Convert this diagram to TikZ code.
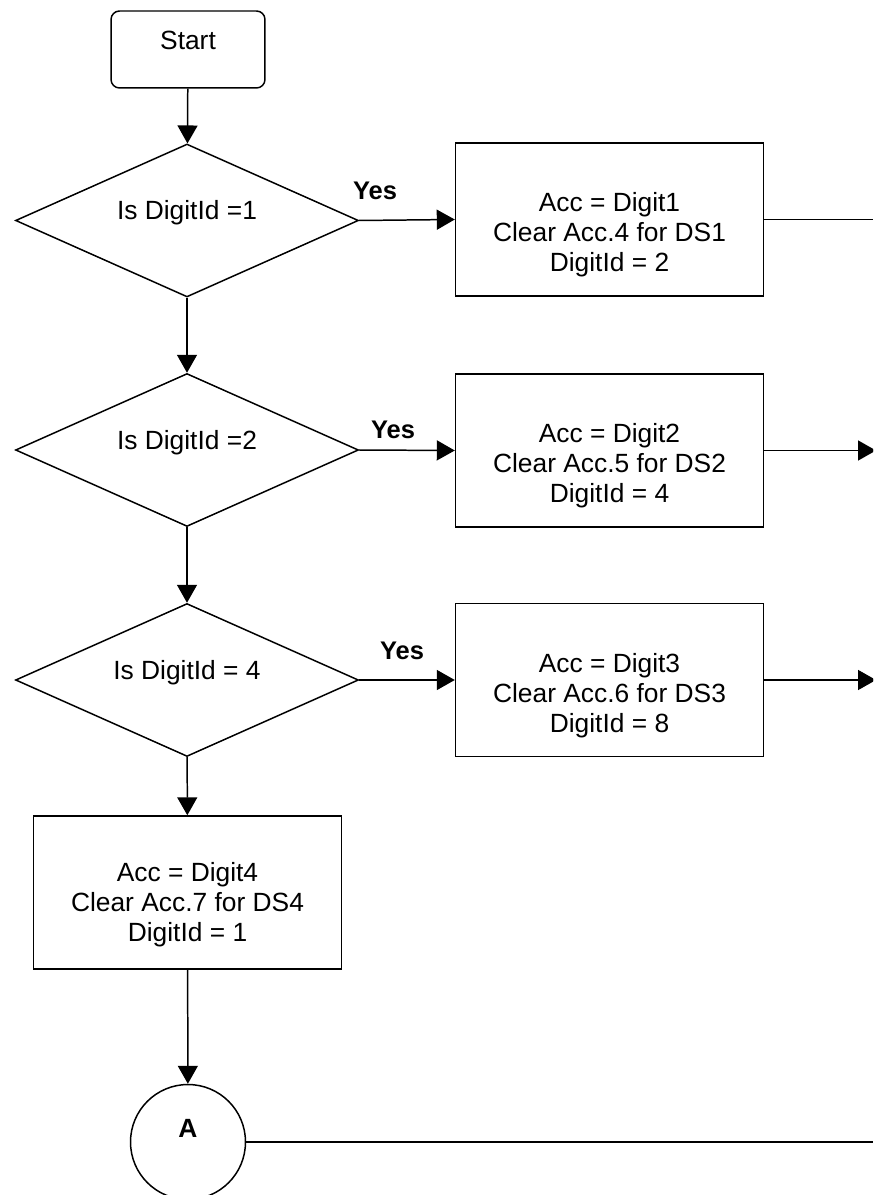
\documentclass[tikz,border=0pt]{standalone}
\usepackage{fontspec}
\setmainfont{Liberation Sans}
\usetikzlibrary{shapes.geometric, arrows.meta}

\tikzset{
  startbox/.style={draw, rectangle, rounded corners=0.17cm, minimum width=3.08cm, minimum height=1.54cm},
  decision/.style={draw, diamond, inner sep=0pt, minimum width=6.86cm, minimum height=3.06cm},
  process/.style={draw, rectangle, minimum width=6.16cm, minimum height=3.06cm},
  connector/.style={draw, circle, minimum size=2.3cm},
  txt/.style={align=center, inner sep=0pt},
  yeslbl/.style={inner sep=0pt, font=\fontsize{14.5}{17}\selectfont\bfseries}
}

\begin{document}
\begin{tikzpicture}[x=0.02cm, y=-0.02cm, line width=0.85pt,
  >={Triangle[length=3.6mm, width=4mm]},
  every node/.style={font=\fontsize{15}{17}\selectfont}]
\clip (0,0) rectangle (873,1195);

% main column
\node[startbox] (start) at (188,49.5) {};
\node[decision] (dec1) at (187,220.5) {};
\node[decision] (dec2) at (187,450) {};
\node[decision] (dec3) at (187,680) {};
\node[process] (act4) at (187.5,892.5) {};
\node[connector] (conA) at (188,1142) {};

% right column
\node[process] (act1) at (609.5,219.5) {};
\node[process] (act2) at (609.5,450.5) {};
\node[process] (act3) at (609.5,680) {};

% texts
\node[txt] (startlbl) at (188,40) {Start};
\node[txt] (dec1lbl) at (187,213) {Is DigitId =1};
\node[txt] (dec2lbl) at (187,443) {Is DigitId =2};
\node[txt] (dec3lbl) at (187,673) {Is DigitId = 4};
\node[txt] (act1lbl) at (609.5,235) {Acc = Digit1\\Clear Acc.4 for DS1\\DigitId = 2};
\node[txt] (act2lbl) at (609.5,466) {Acc = Digit2\\Clear Acc.5 for DS2\\DigitId = 4};
\node[txt] (act3lbl) at (609.5,696) {Acc = Digit3\\Clear Acc.6 for DS3\\DigitId = 8};
\node[txt] (act4lbl) at (187.5,905) {Acc = Digit4\\Clear Acc.7 for DS4\\DigitId = 1};
\node[txt, font=\fontsize{15}{17}\selectfont\bfseries] (conAlbl) at (188,1128) {A};

% yes labels
\node[yeslbl] (yes1) at (375,191) {Yes};
\node[yeslbl] (yes2) at (393,430) {Yes};
\node[yeslbl] (yes3) at (402,651) {Yes};

% right edge
\coordinate (rim) at (873,0);
\coordinate (rimtip) at (876,0);

% connectors
\draw[->] (start) -- (dec1);
\draw[->] (dec1) -- (dec2);
\draw[->] (dec2) -- (dec3);
\draw[->] (dec3) -- (act4);
\draw[->] (act4) -- (conA);

\draw[->] (dec1.east) -- (act1.west);
\draw[->] (dec2.east) -- (act2.west);
\draw[->] (dec3.east) -- (act3.west);

\draw (act1.east) -- (act1.east -| rim);
\draw[->] (act2.east) -- (act2.east -| rimtip);
\draw[->] (act3.east) -- (act3.east -| rimtip);
\draw (conA.east) -- (conA.east -| rim);

\end{tikzpicture}
\end{document}
